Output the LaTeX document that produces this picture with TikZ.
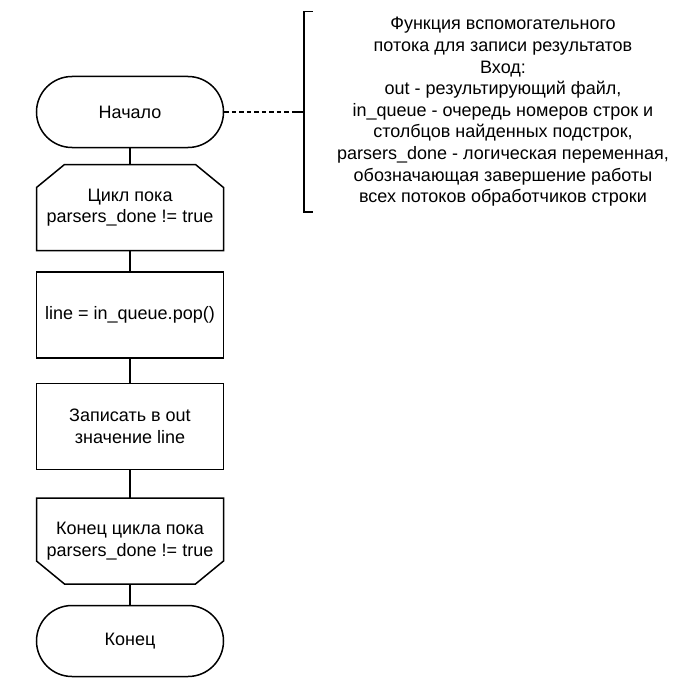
\documentclass[tikz,border=0pt]{standalone}
\usepackage{fontspec}
\setmainfont{Liberation Sans}

\begin{document}
\begin{tikzpicture}[x=1pt, y=-1pt, line width=1.5pt,
  every node/.style={font=\fontsize{18}{21.6}\selectfont, align=center},
  term/.style={draw, rectangle, rounded corners=35.5pt, minimum width=187pt, minimum height=71pt},
  proc/.style={draw, rectangle, minimum width=187pt, minimum height=86pt},
  loopbox/.style={rectangle, outer sep=0pt, minimum width=187pt, minimum height=86pt}]
\useasboundingbox (0,0) rectangle (674,690);

\node[term] (start) at (130,112) {Начало};
\node[loopbox] (loopbeg) at (130,207.5) {Цикл пока\\parsers\_done != true};
\node[proc] (pop) at (130,315) {line = in\_queue.pop()};
\node[proc] (write) at (130,426.5) {Записать в out\\значение line};
\node[loopbox] (loopend) at (130,541) {Конец цикла пока\\parsers\_done != true};
\node[term] (stop) at (130,641) {Конец};

% loop borders, corners cut
\draw ([yshift=-23pt]loopbeg.north west) -- ([xshift=28pt]loopbeg.north west)
  -- ([xshift=-28pt]loopbeg.north east) -- ([yshift=-23pt]loopbeg.north east)
  -- (loopbeg.south east) -- (loopbeg.south west) -- cycle;
\draw ([yshift=23pt]loopend.south west) -- ([xshift=28pt]loopend.south west)
  -- ([xshift=-28pt]loopend.south east) -- ([yshift=23pt]loopend.south east)
  -- (loopend.north east) -- (loopend.north west) -- cycle;

\draw (start) -- (loopbeg);
\draw (loopbeg) -- (pop);
\draw (pop) -- (write);
\draw (write) -- (loopend);
\draw (loopend) -- (stop);

% comment
\coordinate (tick) at (294,112);
\coordinate (brkmid) at (304,112);
\coordinate (brktop) at (304,11.7);
\coordinate (brkbot) at (304,212);
\draw[dash pattern=on 4.5pt off 3pt] (start.east) -- (tick);
\draw (tick) -- (brkmid);
\draw (312.7,11.7) -- (brktop) -- (brkbot) -- (312.7,212);
\node (note) at (503,112) {Функция вспомогательного\\потока для записи результатов\\Вход:\\out - результирующий файл,\\in\_queue - очередь номеров строк и\\столбцов найденных подстрок,\\parsers\_done - логическая переменная,\\обозначающая завершение работы\\всех потоков обработчиков строки};
\end{tikzpicture}
\end{document}
